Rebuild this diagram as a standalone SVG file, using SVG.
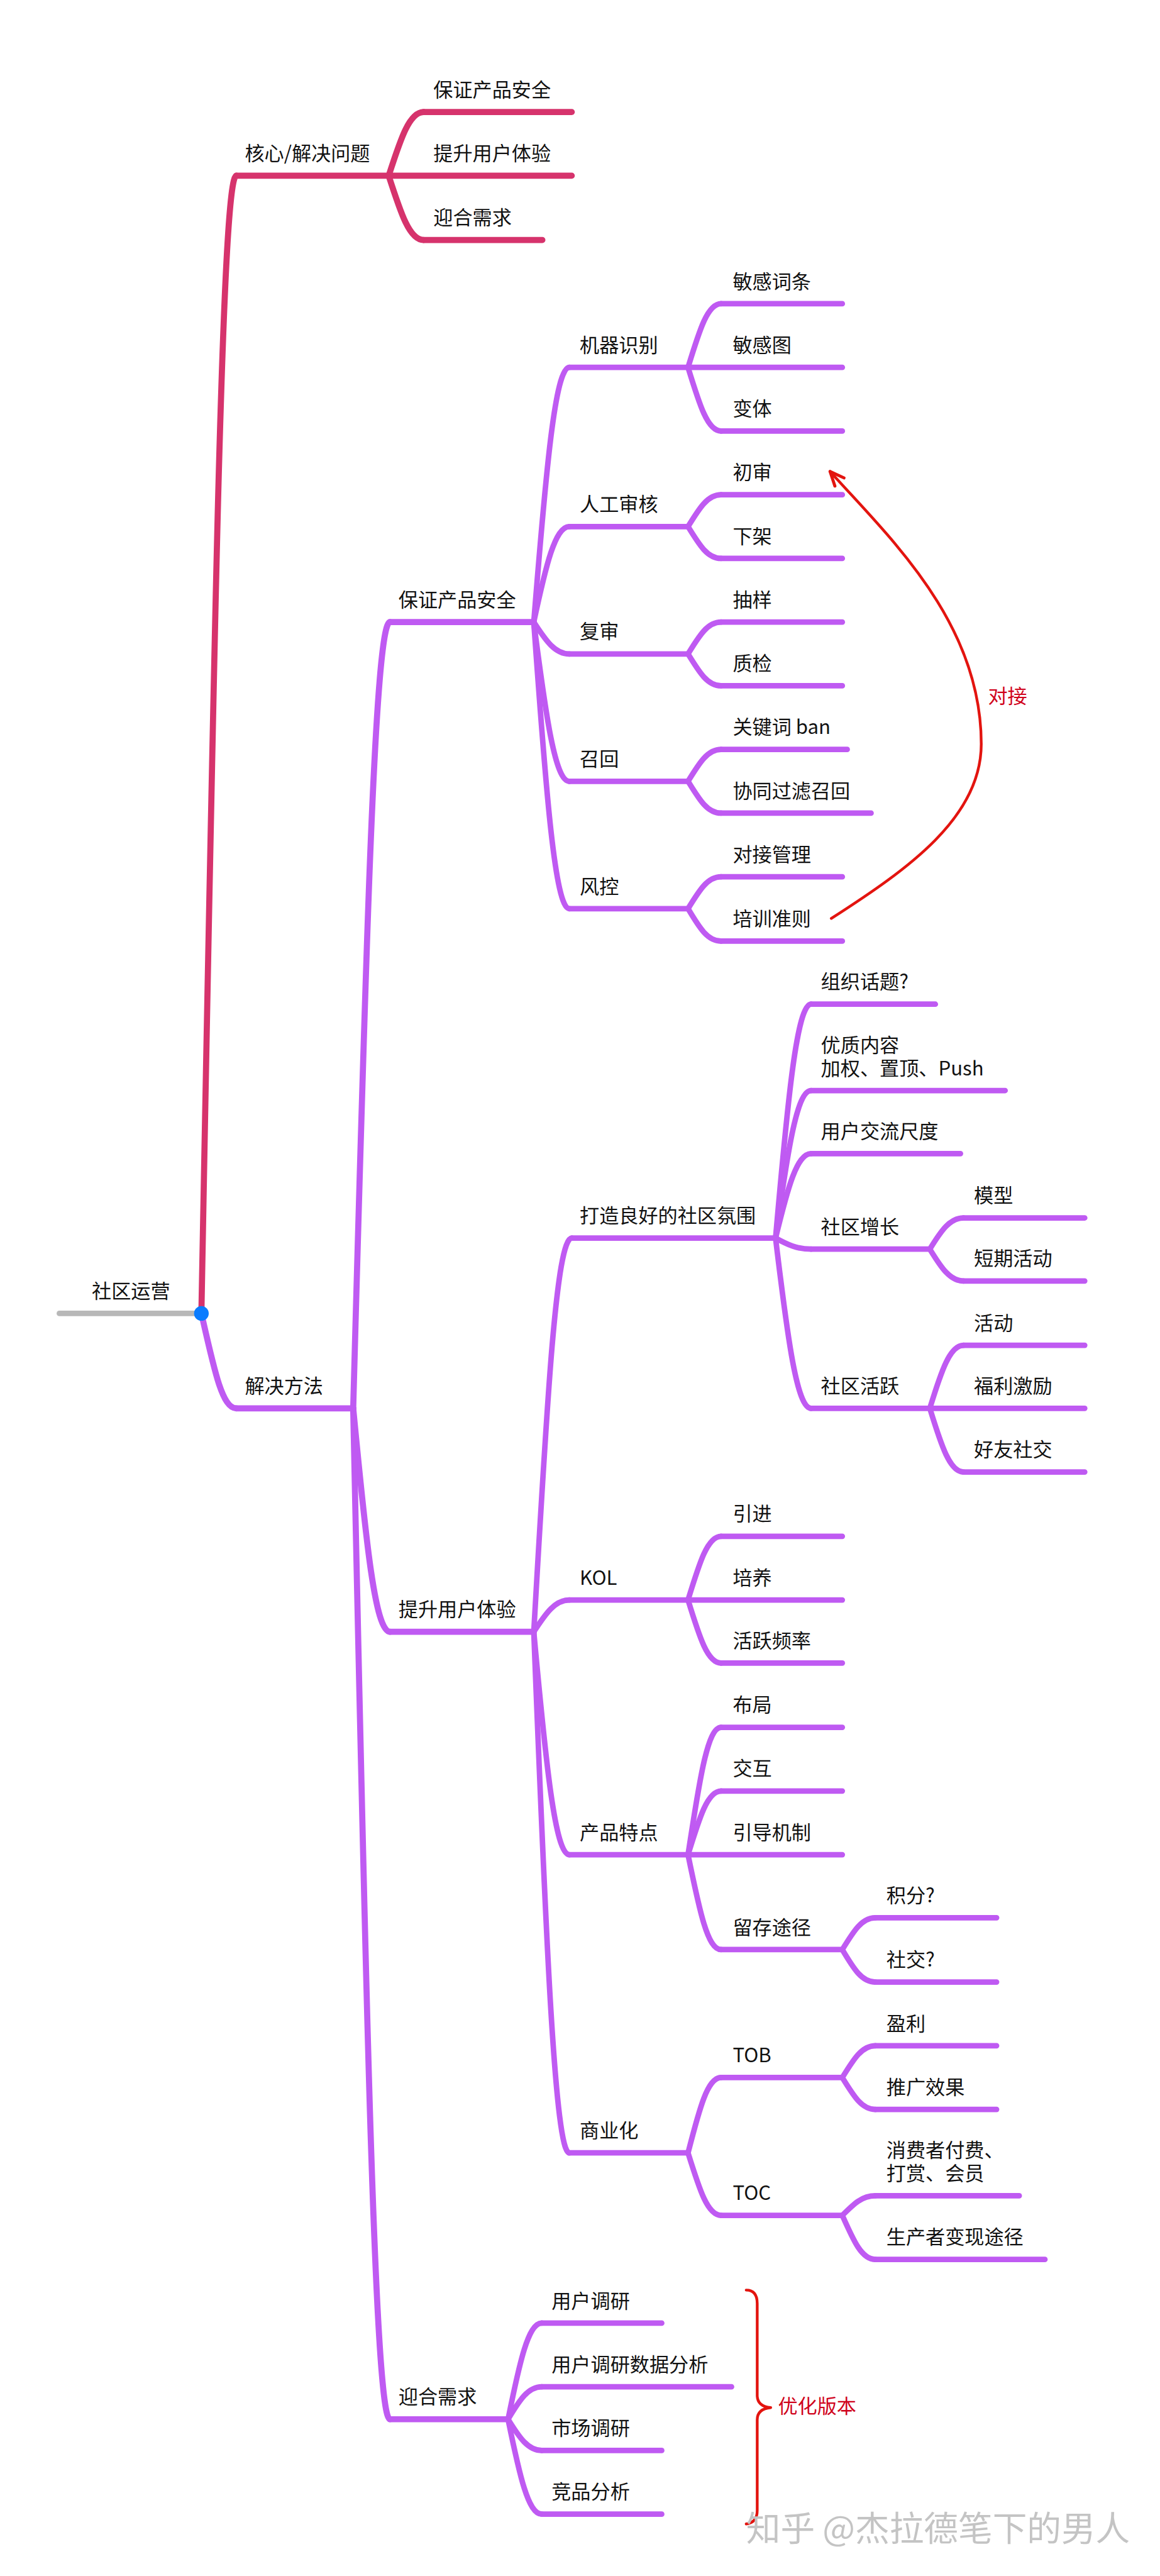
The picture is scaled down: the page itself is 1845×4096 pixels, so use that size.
<svg xmlns="http://www.w3.org/2000/svg" width="1845" height="4096" viewBox="0 0 1845 4096">
<defs>
<style>
.t{font-family:"Noto Sans CJK SC","Noto Sans",sans-serif;font-size:32px;fill:#111}
.rt{font-family:"Noto Sans CJK SC","Noto Sans",sans-serif;font-size:32px;fill:#D0021B}
.wm{font-family:"Noto Sans CJK SC","Noto Sans",sans-serif;font-size:56px;fill:#c4c4c4}
.p{stroke:#BF5AF2;fill:none;stroke-linecap:round;stroke-linejoin:round}
.r{stroke:#D6336C;fill:none;stroke-linecap:round;stroke-linejoin:round}
.g{stroke:#B8B8B8;fill:none;stroke-linecap:round}
.w10{stroke-width:10}
.w9{stroke-width:9}
.note{stroke:#E3140F;fill:none;stroke-width:4.5;stroke-linecap:round;stroke-linejoin:round}
</style>
<marker id="arr" viewBox="-30 -15 36 30" refX="0" refY="0" markerWidth="36" markerHeight="30" orient="auto" markerUnits="userSpaceOnUse">
<path d="M-23,-10 L0,0 L-23,10" fill="none" stroke="#E3140F" stroke-width="5" stroke-linecap="round" stroke-linejoin="round"/>
</marker>
</defs>
<rect width="1845" height="4096" fill="#fff"/>
<g transform="scale(0.973615)">
<g id="connectors">
<path class="r w10" d="M329,2145 C350,1030 363,287 386,287"/>
<path class="r w10" d="M635,287 C655,225 669,183 692,183"/>
<path class="r w10" d="M635,287 C655,349 669,392 692,392"/>
<path class="p w10" d="M329,2145 C350,2238 363,2300 386,2300"/>
<path class="p w10" d="M577,2300 C598,1530 613,1016 637,1016"/>
<path class="p w10" d="M577,2300 C598,2519 613,2665 637,2665"/>
<path class="p w10" d="M577,2300 C598,3291 613,3951 637,3951"/>
<path class="p w9" d="M872,1016 C892,766 907,600 930,600"/>
<path class="p w9" d="M872,1016 C892,922 907,860 930,860"/>
<path class="p w9" d="M872,1016 C892,1047 907,1068 930,1068"/>
<path class="p w9" d="M872,1016 C892,1172 907,1276 930,1276"/>
<path class="p w9" d="M872,1016 C892,1297 907,1484 930,1484"/>
<path class="p w9" d="M1124,600 C1143,538 1156,496 1178,496"/>
<path class="p w9" d="M1124,600 C1143,662 1156,704 1178,704"/>
<path class="p w9" d="M1124,860 C1143,829 1156,808 1178,808"/>
<path class="p w9" d="M1124,860 C1143,891 1156,912 1178,912"/>
<path class="p w9" d="M1124,1068 C1143,1037 1156,1016 1178,1016"/>
<path class="p w9" d="M1124,1068 C1143,1099 1156,1120 1178,1120"/>
<path class="p w9" d="M1124,1276 C1143,1245 1156,1224 1178,1224"/>
<path class="p w9" d="M1124,1276 C1143,1307 1156,1328 1178,1328"/>
<path class="p w9" d="M1124,1484 C1143,1453 1156,1432 1178,1432"/>
<path class="p w9" d="M1124,1484 C1143,1516 1156,1537 1178,1537"/>
<path class="p w9" d="M872,2665 C894,2279 909,2022 934,2022"/>
<path class="p w9" d="M872,2665 C892,2634 907,2613 930,2613"/>
<path class="p w9" d="M872,2665 C892,2883 907,3029 930,3029"/>
<path class="p w9" d="M872,2665 C892,3176 907,3516 930,3516"/>
<path class="p w9" d="M1267,2022 C1287,1793 1302,1640 1325,1640"/>
<path class="p w9" d="M1267,2022 C1287,1877 1302,1781 1325,1781"/>
<path class="p w9" d="M1267,2022 C1287,1939 1302,1884 1325,1884"/>
<path class="p w9" d="M1267,2022 C1287,2033 1302,2040 1325,2040"/>
<path class="p w9" d="M1267,2022 C1287,2189 1302,2300 1325,2300"/>
<path class="p w9" d="M1519,2040 C1538,2009 1552,1989 1574,1989"/>
<path class="p w9" d="M1519,2040 C1538,2071 1552,2092 1574,2092"/>
<path class="p w9" d="M1519,2300 C1538,2238 1552,2197 1574,2197"/>
<path class="p w9" d="M1519,2300 C1538,2362 1552,2404 1574,2404"/>
<path class="p w9" d="M1124,2613 C1143,2551 1156,2509 1178,2509"/>
<path class="p w9" d="M1124,2613 C1143,2675 1156,2716 1178,2716"/>
<path class="p w9" d="M1124,3029 C1143,2904 1156,2821 1178,2821"/>
<path class="p w9" d="M1124,3029 C1143,2967 1156,2925 1178,2925"/>
<path class="p w9" d="M1124,3029 C1143,3122 1156,3184 1178,3184"/>
<path class="p w9" d="M1376,3184 C1395,3153 1408,3132 1430,3132"/>
<path class="p w9" d="M1376,3184 C1395,3216 1408,3237 1430,3237"/>
<path class="p w9" d="M1124,3516 C1143,3442 1156,3393 1178,3393"/>
<path class="p w9" d="M1124,3516 C1143,3577 1156,3618 1178,3618"/>
<path class="p w9" d="M1376,3393 C1395,3362 1408,3341 1430,3341"/>
<path class="p w9" d="M1376,3393 C1395,3424 1408,3445 1430,3445"/>
<path class="p w9" d="M1376,3618 C1395,3599 1408,3586 1430,3586"/>
<path class="p w9" d="M1376,3618 C1395,3661 1408,3690 1430,3690"/>
<path class="p w9" d="M830,3951 C849,3857 863,3794 885,3794"/>
<path class="p w9" d="M830,3951 C849,3919 863,3898 885,3898"/>
<path class="p w9" d="M830,3951 C849,3982 863,4002 885,4002"/>
<path class="p w9" d="M830,3951 C849,4044 863,4106 885,4106"/>
<path id="arrow-dock" class="note" d="M1358,1500 C1484,1419 1603,1335 1603,1215 C1603,1015 1450,875 1356,770" marker-end="url(#arr)"/>
<path id="brace" class="note" d="M1219,3740 Q1237,3740 1237,3762 L1237,3912 Q1237,3930 1259,3932 Q1237,3934 1237,3952 L1237,4100 Q1237,4120 1219,4122"/>
</g>
<g id="n-root"><line class="g w9" x1="97" y1="2145" x2="329" y2="2145"/><text class="t" x="150" y="2120">社区运营</text><circle cx="329" cy="2145" r="12" fill="#0A7CFF"/></g>
<g id="n-core"><line class="r w10" x1="386" y1="287" x2="635" y2="287"/><text class="t" x="400" y="262">核心/解决问题</text></g>
<g id="n-core-safety"><line class="r w10" x1="692" y1="183" x2="934" y2="183"/><text class="t" x="708" y="158">保证产品安全</text></g>
<g id="n-core-exp"><line class="r w10" x1="635" y1="287" x2="934" y2="287"/><text class="t" x="708" y="262">提升用户体验</text></g>
<g id="n-core-demand"><line class="r w10" x1="692" y1="392" x2="886" y2="392"/><text class="t" x="708" y="367">迎合需求</text></g>
<g id="n-method"><line class="p w10" x1="386" y1="2300" x2="577" y2="2300"/><text class="t" x="400" y="2275">解决方法</text></g>
<g id="n-safety"><line class="p w10" x1="637" y1="1016" x2="872" y2="1016"/><text class="t" x="651" y="991">保证产品安全</text></g>
<g id="n-machine"><line class="p w9" x1="930" y1="600" x2="1124" y2="600"/><text class="t" x="947" y="575">机器识别</text></g>
<g id="n-words"><line class="p w9" x1="1178" y1="496" x2="1376" y2="496"/><text class="t" x="1197" y="471">敏感词条</text></g>
<g id="n-image"><line class="p w9" x1="1124" y1="600" x2="1376" y2="600"/><text class="t" x="1197" y="575">敏感图</text></g>
<g id="n-variant"><line class="p w9" x1="1178" y1="704" x2="1376" y2="704"/><text class="t" x="1197" y="679">变体</text></g>
<g id="n-manual"><line class="p w9" x1="930" y1="860" x2="1124" y2="860"/><text class="t" x="947" y="835">人工审核</text></g>
<g id="n-first"><line class="p w9" x1="1178" y1="808" x2="1376" y2="808"/><text class="t" x="1197" y="783">初审</text></g>
<g id="n-offshelf"><line class="p w9" x1="1178" y1="912" x2="1376" y2="912"/><text class="t" x="1197" y="887">下架</text></g>
<g id="n-recheck"><line class="p w9" x1="930" y1="1068" x2="1124" y2="1068"/><text class="t" x="947" y="1043">复审</text></g>
<g id="n-sample"><line class="p w9" x1="1178" y1="1016" x2="1376" y2="1016"/><text class="t" x="1197" y="991">抽样</text></g>
<g id="n-qc"><line class="p w9" x1="1178" y1="1120" x2="1376" y2="1120"/><text class="t" x="1197" y="1095">质检</text></g>
<g id="n-recall"><line class="p w9" x1="930" y1="1276" x2="1124" y2="1276"/><text class="t" x="947" y="1251">召回</text></g>
<g id="n-kwban"><line class="p w9" x1="1178" y1="1224" x2="1384" y2="1224"/><text class="t" x="1197" y="1199">关键词 ban</text></g>
<g id="n-cf"><line class="p w9" x1="1178" y1="1328" x2="1423" y2="1328"/><text class="t" x="1197" y="1303">协同过滤召回</text></g>
<g id="n-risk"><line class="p w9" x1="930" y1="1484" x2="1124" y2="1484"/><text class="t" x="947" y="1459">风控</text></g>
<g id="n-dock"><line class="p w9" x1="1178" y1="1432" x2="1376" y2="1432"/><text class="t" x="1197" y="1407">对接管理</text></g>
<g id="n-train"><line class="p w9" x1="1178" y1="1537" x2="1376" y2="1537"/><text class="t" x="1197" y="1512">培训准则</text></g>
<g id="n-exp"><line class="p w10" x1="637" y1="2665" x2="872" y2="2665"/><text class="t" x="651" y="2640">提升用户体验</text></g>
<g id="n-atmos"><line class="p w9" x1="934" y1="2022" x2="1267" y2="2022"/><text class="t" x="947" y="1997">打造良好的社区氛围</text></g>
<g id="n-topic"><line class="p w9" x1="1325" y1="1640" x2="1528" y2="1640"/><text class="t" x="1341" y="1615">组织话题?</text></g>
<g id="n-quality"><line class="p w9" x1="1325" y1="1781" x2="1642" y2="1781"/><text class="t" x="1341" y="1718">优质内容</text><text class="t" x="1341" y="1756">加权、置顶、Push</text></g>
<g id="n-scale"><line class="p w9" x1="1325" y1="1884" x2="1569" y2="1884"/><text class="t" x="1341" y="1859">用户交流尺度</text></g>
<g id="n-growth"><line class="p w9" x1="1325" y1="2040" x2="1519" y2="2040"/><text class="t" x="1341" y="2015">社区增长</text></g>
<g id="n-model"><line class="p w9" x1="1574" y1="1989" x2="1772" y2="1989"/><text class="t" x="1591" y="1964">模型</text></g>
<g id="n-short"><line class="p w9" x1="1574" y1="2092" x2="1772" y2="2092"/><text class="t" x="1591" y="2067">短期活动</text></g>
<g id="n-active"><line class="p w9" x1="1325" y1="2300" x2="1519" y2="2300"/><text class="t" x="1341" y="2275">社区活跃</text></g>
<g id="n-event"><line class="p w9" x1="1574" y1="2197" x2="1772" y2="2197"/><text class="t" x="1591" y="2172">活动</text></g>
<g id="n-welfare"><line class="p w9" x1="1519" y1="2300" x2="1772" y2="2300"/><text class="t" x="1591" y="2275">福利激励</text></g>
<g id="n-friend"><line class="p w9" x1="1574" y1="2404" x2="1772" y2="2404"/><text class="t" x="1591" y="2379">好友社交</text></g>
<g id="n-kol"><line class="p w9" x1="930" y1="2613" x2="1124" y2="2613"/><text class="t" x="947" y="2588">KOL</text></g>
<g id="n-intro"><line class="p w9" x1="1178" y1="2509" x2="1376" y2="2509"/><text class="t" x="1197" y="2484">引进</text></g>
<g id="n-nurture"><line class="p w9" x1="1124" y1="2613" x2="1376" y2="2613"/><text class="t" x="1197" y="2588">培养</text></g>
<g id="n-freq"><line class="p w9" x1="1178" y1="2716" x2="1376" y2="2716"/><text class="t" x="1197" y="2691">活跃频率</text></g>
<g id="n-feature"><line class="p w9" x1="930" y1="3029" x2="1124" y2="3029"/><text class="t" x="947" y="3004">产品特点</text></g>
<g id="n-layout"><line class="p w9" x1="1178" y1="2821" x2="1376" y2="2821"/><text class="t" x="1197" y="2796">布局</text></g>
<g id="n-interact"><line class="p w9" x1="1178" y1="2925" x2="1376" y2="2925"/><text class="t" x="1197" y="2900">交互</text></g>
<g id="n-guide"><line class="p w9" x1="1124" y1="3029" x2="1376" y2="3029"/><text class="t" x="1197" y="3004">引导机制</text></g>
<g id="n-retain"><line class="p w9" x1="1178" y1="3184" x2="1376" y2="3184"/><text class="t" x="1197" y="3159">留存途径</text></g>
<g id="n-points"><line class="p w9" x1="1430" y1="3132" x2="1628" y2="3132"/><text class="t" x="1448" y="3107">积分?</text></g>
<g id="n-social"><line class="p w9" x1="1430" y1="3237" x2="1628" y2="3237"/><text class="t" x="1448" y="3212">社交?</text></g>
<g id="n-biz"><line class="p w9" x1="930" y1="3516" x2="1124" y2="3516"/><text class="t" x="947" y="3491">商业化</text></g>
<g id="n-tob"><line class="p w9" x1="1178" y1="3393" x2="1376" y2="3393"/><text class="t" x="1197" y="3368">TOB</text></g>
<g id="n-profit"><line class="p w9" x1="1430" y1="3341" x2="1628" y2="3341"/><text class="t" x="1448" y="3316">盈利</text></g>
<g id="n-promo"><line class="p w9" x1="1430" y1="3445" x2="1628" y2="3445"/><text class="t" x="1448" y="3420">推广效果</text></g>
<g id="n-toc"><line class="p w9" x1="1178" y1="3618" x2="1376" y2="3618"/><text class="t" x="1197" y="3593">TOC</text></g>
<g id="n-consumer"><line class="p w9" x1="1430" y1="3586" x2="1665" y2="3586"/><text class="t" x="1448" y="3523">消费者付费、</text><text class="t" x="1448" y="3561">打赏、会员</text></g>
<g id="n-producer"><line class="p w9" x1="1430" y1="3690" x2="1707" y2="3690"/><text class="t" x="1448" y="3665">生产者变现途径</text></g>
<g id="n-demand"><line class="p w10" x1="637" y1="3951" x2="830" y2="3951"/><text class="t" x="651" y="3926">迎合需求</text></g>
<g id="n-ur"><line class="p w9" x1="885" y1="3794" x2="1081" y2="3794"/><text class="t" x="901" y="3769">用户调研</text></g>
<g id="n-urd"><line class="p w9" x1="885" y1="3898" x2="1195" y2="3898"/><text class="t" x="901" y="3873">用户调研数据分析</text></g>
<g id="n-mr"><line class="p w9" x1="885" y1="4002" x2="1081" y2="4002"/><text class="t" x="901" y="3977">市场调研</text></g>
<g id="n-ca"><line class="p w9" x1="885" y1="4106" x2="1081" y2="4106"/><text class="t" x="901" y="4081">竞品分析</text></g>
<g id="labels"><text class="rt" x="1614" y="1148">对接</text><text class="rt" x="1271" y="3941">优化版本</text></g>
<g id="watermark"><text class="wm" x="1219" y="4149" textLength="627" lengthAdjust="spacingAndGlyphs">知乎 @杰拉德笔下的男人</text></g>
</g>
</svg>
